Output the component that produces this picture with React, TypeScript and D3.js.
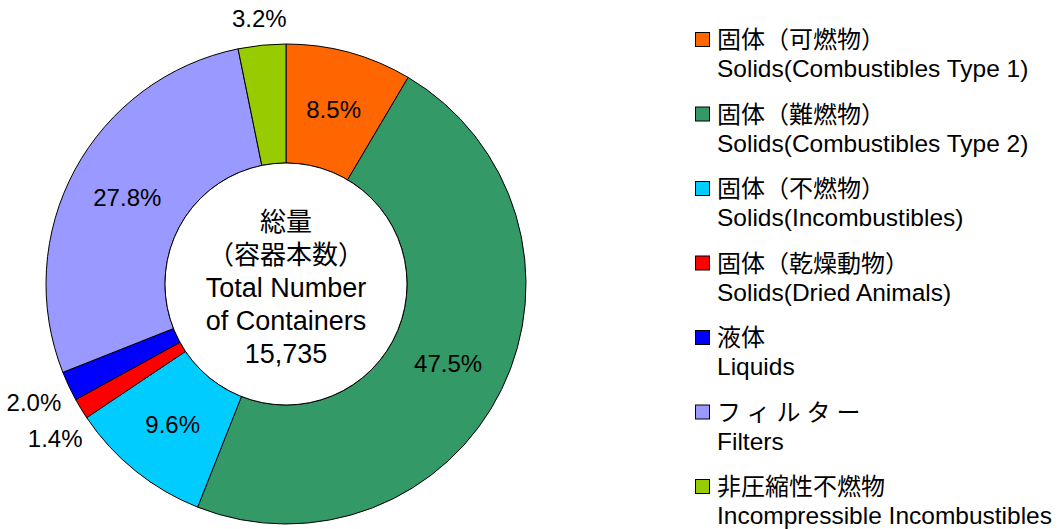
import React from 'react';
import * as d3 from 'd3';

const categoriesJa = [
  '固体（可燃物）',
  '固体（難燃物）',
  '固体（不燃物）',
  '固体（乾燥動物）',
  '液体',
  'フィルター',
  '非圧縮性不燃物',
];
const categoriesEn = [
  'Solids(Combustibles Type 1)',
  'Solids(Combustibles Type 2)',
  'Solids(Incombustibles)',
  'Solids(Dried Animals)',
  'Liquids',
  'Filters',
  'Incompressible Incombustibles',
];
const shares = [8.5, 47.5, 9.6, 1.4, 2.0, 27.8, 3.2];
const colors = ['#FF6600', '#339966', '#00CCFF', '#FF0000', '#0000FF', '#9999FF', '#99CC00'];
const centerLines = ['総量', '（容器本数）', 'Total Number', 'of Containers', '15,735'];

const W = 1058;
const H = 529;
const cx = 286;
const cy = 284;
const outerR = 240;
const innerR = 121;
const font = '"Liberation Sans", Arial, "Noto Sans CJK JP", sans-serif';

const App = () => {
  const pie = d3.pie<number>().sort(null).value((d) => d);
  const arcs = pie(shares);
  const arc = d3.arc<d3.PieArcDatum<number>>().innerRadius(innerR).outerRadius(outerR);

  // label positions: inside at the centroid, small slices outside the ring
  const labels = arcs.map((a, i) => {
    if (shares[i] >= 5) {
      const [x, y] = arc.centroid(a);
      return { x, y, out: false, r: 0, side: 1 };
    }
    const mid = (a.startAngle + a.endAngle) / 2;
    const r = outerR + 25 + 15 * Math.abs(Math.sin(mid));
    return { x: r * Math.sin(mid), y: -r * Math.cos(mid), out: true, r, side: Math.sign(Math.sin(mid)) };
  });

  // push overlapping outside labels apart vertically, keep them on their ring
  const minGap = 36;
  const outs = labels.filter((l) => l.out && l.side < 0).sort((a, b) => a.y - b.y);
  for (let k = 1; k < outs.length; k++) {
    const prev = outs[k - 1];
    const cur = outs[k];
    if (cur.y - prev.y < minGap) {
      cur.y = prev.y + minGap;
      cur.x = -Math.sqrt(Math.max(0, cur.r * cur.r - cur.y * cur.y));
    }
  }

  const legendX = 695;
  const legendY = d3.scaleLinear().domain([0, categoriesJa.length - 1]).range([40, 487]);

  return (
    <svg width={W} height={H} style={{ position: 'absolute', left: 0, top: 0, background: '#fff' }} fontFamily={font}>
      <g transform={`translate(${cx},${cy})`}>
        {arcs.map((a, i) => (
          <path key={i} d={arc(a) || ''} fill={colors[i]} stroke="#000" strokeWidth={1} />
        ))}
        <circle r={innerR} fill="#fff" stroke="#000" strokeWidth={1} />
        {labels.map((l, i) => (
          <text key={i} x={l.x} y={l.y} dy="0.35em" textAnchor="middle" fontSize={24} fill="#000">
            {shares[i].toFixed(1)}%
          </text>
        ))}
        {centerLines.map((t, i) => (
          <text key={i} x={0} y={-62 + i * 33} dy="0.35em" textAnchor="middle" fontSize={i < 2 ? 26 : 27} fill="#000">
            {t}
          </text>
        ))}
      </g>
      <g>
        {categoriesJa.map((c, i) => {
          const y = legendY(i);
          return (
            <g key={i}>
              <rect x={legendX + 0.5} y={y - 7.5} width={14} height={14} fill={colors[i]} stroke="#000" strokeWidth={1} />
              <text
                x={legendX + 22}
                y={y}
                dy="0.35em"
                fontSize={24}
                letterSpacing={c === 'フィルター' ? 6 : 0}
                fill="#000"
              >
                {c}
              </text>
              <text x={legendX + 22} y={y + 37} fontSize={24.5} fill="#000">
                {categoriesEn[i]}
              </text>
            </g>
          );
        })}
      </g>
    </svg>
  );
};

export default App;
